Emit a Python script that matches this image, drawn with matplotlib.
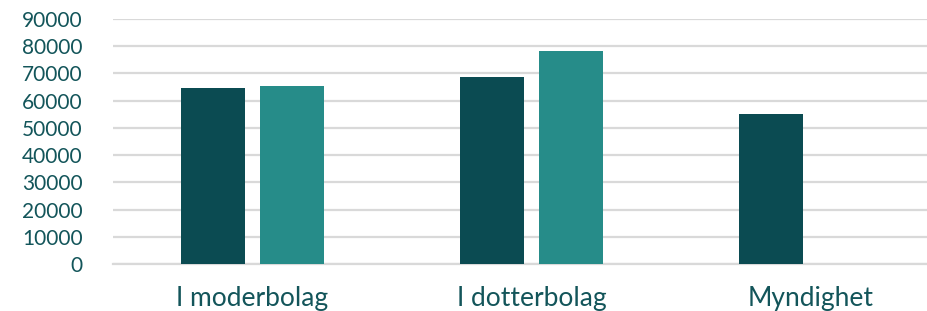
import numpy as np
import matplotlib.pyplot as plt

categories = ["I moderbolag", "I dotterbolag", "Myndighet"]
series_a = [64500, 68700, 55200]
series_b = [65500, 78200, np.nan]
yticks = list(range(0, 90001, 10000))

dark = "#0B4B52"
light = "#268C89"
text_col = "#13555A"
grid_col = "#D9D9D9"

plt.rcParams["font.family"] = ["Lato", "DejaVu Sans"]

fig = plt.figure(figsize=(9.28, 3.11), dpi=100)
# plot area runs a bit past the right edge of the picture
ax = fig.add_axes([113 / 928, 47 / 311, 837 / 928, 245 / 311])

x = np.arange(len(categories))
w = 0.226
off = 0.1416
ax.bar(x - off, series_a, width=w, color=dark, zorder=3)
ax.bar(x + off, series_b, width=w, color=light, zorder=3)

ax.set_xlim(-0.5, 2.5)
ax.set_ylim(0, 90000)
ax.set_yticks(yticks)
ax.set_yticklabels([str(v) for v in yticks])
ax.set_xticks(x)
ax.set_xticklabels(categories)

ax.yaxis.grid(True, color=grid_col, linewidth=1.6, zorder=0)
ax.set_axisbelow(True)
for s in ["top", "right", "left"]:
    ax.spines[s].set_visible(False)
ax.spines["bottom"].set_color(grid_col)
ax.spines["bottom"].set_linewidth(1.6)

ax.tick_params(axis="y", length=0, pad=22, labelsize=15, labelcolor=text_col)
ax.tick_params(axis="x", length=0, pad=16, labelsize=19, labelcolor=text_col)

fig.savefig("out.png", dpi=100)
